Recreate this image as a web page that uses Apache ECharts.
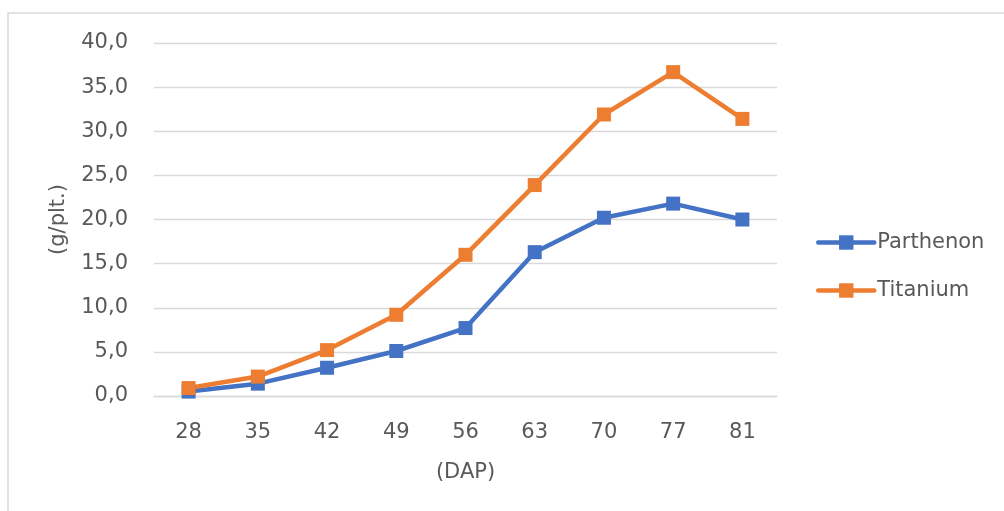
<!DOCTYPE html>
<html>
<head>
<meta charset="utf-8">
<script src="https://cdn.jsdelivr.net/npm/echarts@6/dist/echarts.min.js"></script>
<style>
  html, body { margin: 0; padding: 0; background: #fff; }
  #chart { width: 1004px; height: 511px; }
</style>
</head>
<body>
<div id="chart"></div>
<script>
// Days after planting
const categories = ['28', '35', '42', '49', '56', '63', '70', '77', '81'];
// Dry mass per plant (g/plt.)
const parthenon = [0.5, 1.4, 3.2, 5.1, 7.7, 16.3, 20.2, 21.8, 20.0];
const titanium = [0.9, 2.2, 5.2, 9.2, 16.0, 23.9, 31.9, 36.7, 31.4];
const yTicks = { min: 0, max: 40, interval: 5 };

const textColor = '#595959';
const font = 'DejaVu Sans';
const fontSize = 21;

const chart = echarts.init(document.getElementById('chart'), null, { renderer: 'canvas' });

function lineSeries(name, data, color) {
  return {
    name: name,
    type: 'line',
    data: data,
    symbol: 'rect',
    symbolSize: 14,
    showSymbol: true,
    lineStyle: { color: color, width: 4.5, cap: 'round', join: 'round' },
    itemStyle: { color: color },
    emphasis: { disabled: true },
    animation: false
  };
}

chart.setOption({
  backgroundColor: '#ffffff',
  animation: false,
  textStyle: { fontFamily: font },
  graphic: [{
    type: 'rect',
    shape: { x: 8, y: 13, width: 1100, height: 600 },
    style: { fill: 'none', stroke: '#d9d9d9', lineWidth: 1.5 },
    silent: true,
    z: -1
  }],
  grid: { left: 154, right: 227, top: 43, bottom: 115 },
  legend: {
    orient: 'vertical',
    left: 816,
    top: 232,
    padding: 0,
    itemWidth: 56,
    itemHeight: 18,
    itemGap: 27,
    lineStyle: { width: 4.5, cap: 'round' },
    textStyle: { color: textColor, fontFamily: font, fontSize: fontSize, padding: [0, 0, 0, -2] },
    data: ['Parthenon', 'Titanium']
  },
  xAxis: {
    type: 'category',
    data: categories,
    boundaryGap: true,
    name: '(DAP)',
    nameLocation: 'middle',
    nameGap: 66,
    nameTextStyle: { color: textColor, fontFamily: font, fontSize: fontSize },
    axisLine: { show: true, lineStyle: { color: '#d9d9d9', width: 1.3 } },
    axisTick: { show: false },
    axisLabel: { color: textColor, fontFamily: font, fontSize: fontSize, margin: 26 },
    splitLine: { show: false }
  },
  yAxis: {
    type: 'value',
    min: yTicks.min,
    max: yTicks.max,
    interval: yTicks.interval,
    name: '(g/plt.)',
    nameLocation: 'middle',
    nameGap: 85,
    nameRotate: 90,
    nameTextStyle: { color: textColor, fontFamily: font, fontSize: fontSize },
    axisLine: { show: false },
    axisTick: { show: false },
    axisLabel: {
      color: textColor, fontFamily: font, fontSize: fontSize, margin: 26,
      formatter: v => v.toFixed(1).replace('.', ',')
    },
    splitLine: { lineStyle: { color: '#d9d9d9', width: 1.3 } }
  },
  series: [
    lineSeries('Parthenon', parthenon, '#4472C4'),
    lineSeries('Titanium', titanium, '#ED7D31')
  ]
});
</script>
</body>
</html>
